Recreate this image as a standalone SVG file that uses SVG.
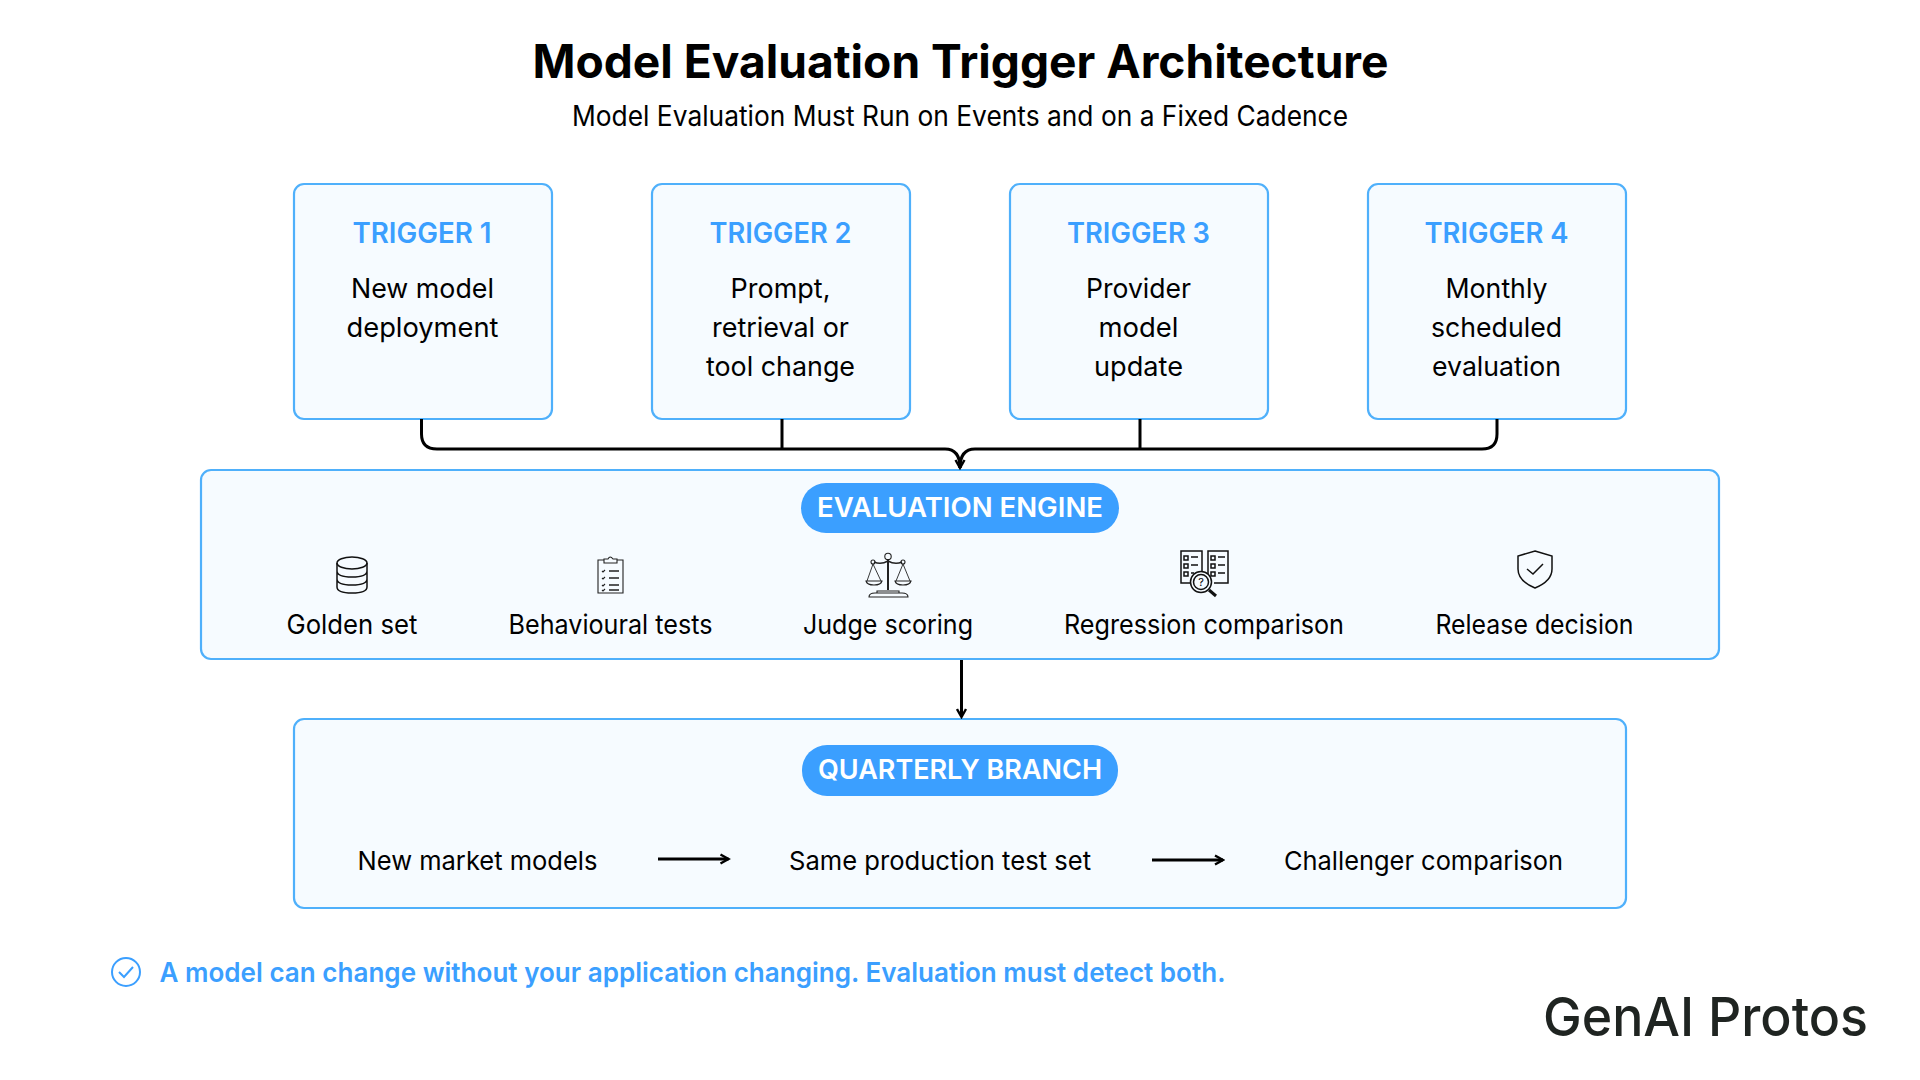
<svg xmlns="http://www.w3.org/2000/svg" width="1920" height="1080" viewBox="0 0 1920 1080">
<defs>
<marker id="ah" viewBox="0 0 12 12" refX="10" refY="6" markerWidth="12" markerHeight="12" markerUnits="userSpaceOnUse" orient="auto"><path d="M2 1.500 L10 6 L2 10.500" fill="none" stroke="#000" stroke-width="2.400"/></marker>
</defs>
<style>
text{font-family:"Inter","Noto Sans",sans-serif;fill:#000}
.box{fill:#f6fbff;stroke:#4fb0fb;stroke-width:2.200}
.tt{font-size:28px;font-weight:600;fill:#3b9fff;text-anchor:middle}
.b{font-size:27px;text-anchor:middle}
.l{font-size:26px}
.pill{fill:#3b9fff}
.pt{font-size:27px;font-weight:600;fill:#fff;text-anchor:middle}
.c{fill:none;stroke:#000;stroke-width:3}
.i{fill:none;stroke:#111;stroke-width:1.500}
.t{fill:none;stroke:#222;stroke-width:1.100}
</style>
<rect width="1920" height="1080" fill="#fff"/>
<g id="header">
<text x="960.500" y="78" font-size="46" font-weight="700" text-anchor="middle" textLength="856" lengthAdjust="spacingAndGlyphs">Model Evaluation Trigger Architecture</text>
<text x="960" y="126" font-size="28" text-anchor="middle" textLength="776" lengthAdjust="spacingAndGlyphs">Model Evaluation Must Run on Events and on a Fixed Cadence</text>
</g>
<g id="trigger1"><rect class="box" x="294" y="184" width="258" height="235" rx="10"/><text class="tt" x="422" y="243" textLength="139" lengthAdjust="spacingAndGlyphs">TRIGGER 1</text><text class="b" x="422.500" y="298" textLength="143" lengthAdjust="spacingAndGlyphs">New model</text><text class="b" x="422.500" y="337" textLength="152" lengthAdjust="spacingAndGlyphs">deployment</text></g>
<g id="trigger2"><rect class="box" x="652" y="184" width="258" height="235" rx="10"/><text class="tt" x="780.500" y="243" textLength="142" lengthAdjust="spacingAndGlyphs">TRIGGER 2</text><text class="b" x="780.500" y="298" textLength="100" lengthAdjust="spacingAndGlyphs">Prompt,</text><text class="b" x="780.500" y="337" textLength="137" lengthAdjust="spacingAndGlyphs">retrieval or</text><text class="b" x="780.500" y="376" textLength="149" lengthAdjust="spacingAndGlyphs">tool change</text></g>
<g id="trigger3"><rect class="box" x="1010" y="184" width="258" height="235" rx="10"/><text class="tt" x="1138.500" y="243" textLength="143" lengthAdjust="spacingAndGlyphs">TRIGGER 3</text><text class="b" x="1138.500" y="298" textLength="105" lengthAdjust="spacingAndGlyphs">Provider</text><text class="b" x="1138.500" y="337" textLength="80" lengthAdjust="spacingAndGlyphs">model</text><text class="b" x="1138.500" y="376" textLength="89" lengthAdjust="spacingAndGlyphs">update</text></g>
<g id="trigger4"><rect class="box" x="1368" y="184" width="258" height="235" rx="10"/><text class="tt" x="1496.500" y="243" textLength="144" lengthAdjust="spacingAndGlyphs">TRIGGER 4</text><text class="b" x="1496.500" y="298" textLength="102" lengthAdjust="spacingAndGlyphs">Monthly</text><text class="b" x="1496.500" y="337" textLength="131" lengthAdjust="spacingAndGlyphs">scheduled</text><text class="b" x="1496.500" y="376" textLength="129" lengthAdjust="spacingAndGlyphs">evaluation</text></g>
<g id="engine">
<rect class="box" x="201" y="470" width="1518" height="189" rx="10"/>
<rect class="pill" x="801" y="483" width="318" height="50" rx="25"/>
<text class="pt" x="960" y="517" textLength="286" lengthAdjust="spacingAndGlyphs">EVALUATION ENGINE</text>
<g class="i">
<ellipse cx="352" cy="563" rx="15" ry="6"/>
<path d="M337 563V587Q337 593 352 593Q367 593 367 587V563M337 571Q337 577 352 577Q367 577 367 571M337 579Q337 585 352 585Q367 585 367 579"/>
</g>
<g class="t">
<path d="M604 560H598V593H623V560H617"/><path d="M604 563V559H608Q610 555 613 559H617V563Z"/>
<path d="M602 571l1 1 2-2M602 578l1 1 2-2M602 585l1 1 2-2M602 590l1 1 2-2"/>
<path d="M609 571H619M609 578H619M609 585H619M609 590H619" stroke-width="1.500"/>
</g>
<g class="t">
<path d="M888 559V590" stroke-width="2"/><path d="M874 562Q881 565 888 561Q895 565 902 562" stroke-width="1.500"/><circle cx="888" cy="556.500" r="3.200"/><circle cx="873" cy="562" r="2"/><circle cx="903" cy="562" r="2"/>
<path d="M873 564L867 581M873 564L881 581M903 564L896 581M903 564L910 581" stroke-width="0.900"/>
<path d="M866 581Q867 585 874 585Q881 585 882 581ZM895 581Q896 585 903 585Q910 585 911 581Z"/>
<path d="M877 593V591H899V593M869 597Q869 593 875 593H902Q908 593 908 597H869Z"/>
</g>
<g class="i" stroke-width="1.300">
<path d="M1197 583H1181V551H1202V574M1208 574V551H1228V583H1214"/>
<path d="M1184 556h4v4h-4zM1184 564h4v4h-4zM1184 572h4v4h-4zM1211 556h4v4h-4zM1211 564h4v4h-4zM1211 572h4v4h-4z"/>
<path d="M1191 557h7M1191 565h7M1191 573h3M1218 557h7M1218 565h7M1218 573h7"/>
<circle cx="1201" cy="582" r="10.500" fill="#f6fbff"/><circle cx="1201" cy="582" r="7.500"/>
<path d="M1209 590L1216 596" stroke-width="3"/>
</g>
<text x="1201" y="586" font-size="11" text-anchor="middle">?</text>
<g class="i">
<path d="M1535 551L1552 556V569Q1552 581 1535 588Q1518 581 1518 569V556Z"/><path d="M1527 569L1533 574L1543 564"/>
</g>
<text class="b" x="352" y="634" textLength="131" lengthAdjust="spacingAndGlyphs">Golden set</text>
<text class="b" x="610.500" y="634" textLength="204" lengthAdjust="spacingAndGlyphs">Behavioural tests</text>
<text class="b" x="888" y="634" textLength="170" lengthAdjust="spacingAndGlyphs">Judge scoring</text>
<text class="b" x="1204" y="634" textLength="280" lengthAdjust="spacingAndGlyphs">Regression comparison</text>
<text class="b" x="1534.500" y="634" textLength="198" lengthAdjust="spacingAndGlyphs">Release decision</text>
</g>
<g id="quarterly">
<rect class="box" x="294" y="719" width="1332" height="189" rx="10"/>
<rect class="pill" x="802" y="745" width="316" height="51" rx="25"/>
<text class="pt" x="960" y="779" textLength="284" lengthAdjust="spacingAndGlyphs">QUARTERLY BRANCH</text>
<text class="l" x="357.500" y="870" textLength="240" lengthAdjust="spacingAndGlyphs">New market models</text>
<text class="l" x="789" y="870" textLength="302" lengthAdjust="spacingAndGlyphs">Same production test set</text>
<text class="l" x="1284" y="870" textLength="279" lengthAdjust="spacingAndGlyphs">Challenger comparison</text>
</g>
<g id="connectors">
<path class="c" d="M421.500 419V434Q421.500 449 437 449H945Q960 449 960 468" marker-end="url(#ah)"/>
<path class="c" d="M782 419V449"/>
<path class="c" d="M1140 419V449"/>
<path class="c" d="M1497 419V434Q1497 449 1482 449H975Q960 449 960 468"/>
<path class="c" d="M961.500 660V717" marker-end="url(#ah)"/>
<path class="c" d="M658 859H728.500" marker-end="url(#ah)"/>
<path class="c" d="M1152 860H1223" marker-end="url(#ah)"/>
</g>
<g id="note">
<circle cx="126" cy="972" r="14" fill="none" stroke="#3b9fff" stroke-width="2"/>
<path d="M119 972L124 977L133 967" fill="none" stroke="#3b9fff" stroke-width="2"/>
<text x="159.500" y="982" font-size="27" font-weight="600" style="fill:#3b9fff" textLength="1066" lengthAdjust="spacingAndGlyphs">A model can change without your application changing. Evaluation must detect both.</text>
</g>
<g id="logo"><text x="1543" y="1036" font-size="54" font-weight="500" style="fill:#1f2421" textLength="325" lengthAdjust="spacingAndGlyphs">GenAI Protos</text></g>
</svg>
